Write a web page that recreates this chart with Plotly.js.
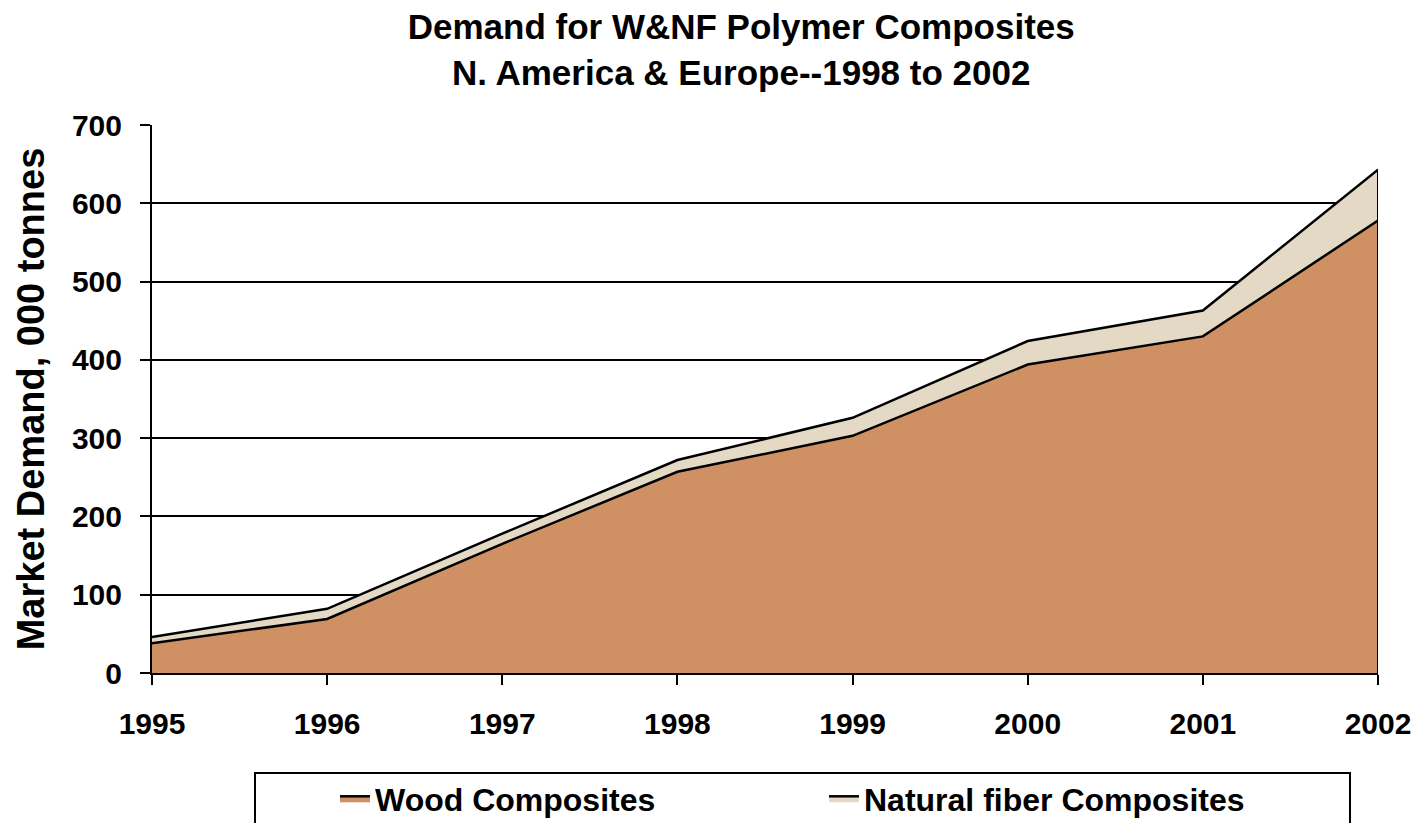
<!DOCTYPE html>
<html>
<head>
<meta charset="utf-8">
<script src="https://cdn.plot.ly/plotly-3.0.1.min.js"></script>
<style>
  html, body { margin: 0; padding: 0; background: #fff; }
  #chart { width: 1420px; height: 823px; }
</style>
</head>
<body>
<div id="chart"></div>
<script>
const years = [1995, 1996, 1997, 1998, 1999, 2000, 2001, 2002];
const woodComposites = [38, 69, 165, 257, 303, 394, 430, 578];
const naturalFiberComposites = [8, 13, 13, 15, 23, 30, 33, 65];
const yTickVals = [0, 100, 200, 300, 400, 500, 600, 700];

const FONT = 'Liberation Sans, Arial, sans-serif';

const lastIdx = years.length - 1;
const lastTotal = woodComposites[lastIdx] + naturalFiberComposites[lastIdx];

const traces = [
  {
    x: years, y: woodComposites, name: 'Wood Composites',
    type: 'scatter', mode: 'lines', stackgroup: 'one',
    line: { color: '#000000', width: 2.5 },
    fillcolor: '#cf9163', hoverinfo: 'skip'
  },
  {
    x: years, y: naturalFiberComposites, name: 'Natural fiber Composites',
    type: 'scatter', mode: 'lines', stackgroup: 'one',
    line: { color: '#000000', width: 2.5 },
    fillcolor: '#e3d9c4', hoverinfo: 'skip'
  },
  {
    x: [years[lastIdx], years[lastIdx]], y: [0, lastTotal],
    type: 'scatter', mode: 'lines', showlegend: false,
    line: { color: '#000000', width: 2 }, hoverinfo: 'skip'
  }
];

const plotH = 823 - 125 - 150;
const plotW = 1420 - 152 - 42;
function px2paperY(py) { return (673 - py) / plotH; }
function px2paperX(px) { return (px - 152) / plotW; }

const layout = {
  width: 1420, height: 823,
  margin: { l: 152, r: 42, t: 125, b: 150, autoexpand: false },
  paper_bgcolor: '#ffffff', plot_bgcolor: '#ffffff',
  font: { family: FONT, color: '#000000' },
  title: {
    text: '<b>Demand for W&amp;NF Polymer Composites<br>N. America &amp; Europe--1998 to 2002</b>',
    font: { family: FONT, size: 35, color: '#000000' },
    x: 0.522, xanchor: 'center', yref: 'container', y: 1 - 39 / 823, yanchor: 'middle'
  },
  xaxis: {
    range: [years[0], years[lastIdx]],
    tickvals: years, ticktext: years.map(String),
    ticks: 'outside', ticklen: 10, tickwidth: 2, tickcolor: '#000',
    showline: true, linecolor: '#000', linewidth: 2,
    showgrid: false, zeroline: false,
    tickfont: { family: FONT, size: 30, color: '#000', weight: 'bold' },
    ticklabelstandoff: 13
  },
  yaxis: {
    range: [0, 700],
    tickvals: yTickVals,
    ticks: 'outside', ticklen: 10, tickwidth: 2, tickcolor: '#000',
    showline: true, linecolor: '#000', linewidth: 2,
    showgrid: true, gridcolor: '#000', gridwidth: 2,
    zeroline: false,
    tickfont: { family: FONT, size: 30, color: '#000', weight: 'bold' },
    ticklabelstandoff: 12,
    title: {
      text: '<b>Market Demand, 000 tonnes</b>',
      font: { family: FONT, size: 38, color: '#000' },
      standoff: 16
    }
  },
  showlegend: true,
  legend: {
    orientation: 'h',
    x: px2paperX(335), xanchor: 'left',
    y: px2paperY(771), yanchor: 'top',
    font: { family: FONT, size: 32, color: '#000', weight: 'bold' },
    bgcolor: 'rgba(0,0,0,0)', borderwidth: 0,
    entrywidth: 444, entrywidthmode: 'pixels',
    traceorder: 'normal'
  },
  shapes: [
    {
      type: 'rect', xref: 'paper', yref: 'paper',
      x0: px2paperX(255), x1: px2paperX(1350),
      y0: px2paperY(773), y1: px2paperY(830),
      line: { color: '#000', width: 2 }, fillcolor: 'rgba(0,0,0,0)'
    }
  ]
};

Plotly.newPlot('chart', traces, layout, { displayModeBar: false, staticPlot: true });
</script>
</body>
</html>
